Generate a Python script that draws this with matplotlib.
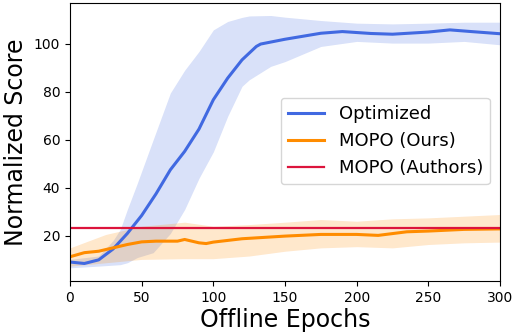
import numpy as np
import matplotlib
matplotlib.use("Agg")
import matplotlib.pyplot as plt

# epochs at which values were read
opt_x = [0, 10, 20, 30, 40, 50, 60, 70, 80, 90, 100, 110, 120, 130, 133, 150, 175, 190, 210, 225, 250, 265, 280, 300]
opt_mean = [9.1, 8.5, 10.0, 14.5, 21.0, 28.5, 37.5, 47.5, 55.2, 64.5, 76.7, 85.7, 93.3, 98.9, 99.9, 101.9, 104.4, 105.1, 104.3, 104.0, 104.9, 105.8, 105.1, 104.2]

band_x = [0, 20, 30, 35, 40, 47, 58, 70, 80, 90, 100, 110, 120, 125, 140, 150, 175, 200, 225, 250, 275, 300]
opt_upper = [10.2, 11.6, 18.0, 22.6, 31.0, 42.0, 60.0, 79.5, 89.0, 96.8, 105.8, 109.3, 111.0, 111.6, 111.8, 111.1, 109.7, 108.6, 108.3, 108.6, 109.0, 109.0]
opt_lower = [6.7, 7.4, 7.8, 8.0, 8.8, 11.0, 13.0, 21.0, 31.0, 44.0, 55.0, 69.8, 82.3, 85.0, 90.6, 92.6, 98.9, 101.0, 100.3, 100.3, 101.0, 99.6]

mopo_x = [0, 10, 20, 30, 40, 50, 60, 75, 80, 90, 95, 100, 120, 150, 175, 200, 215, 235, 250, 275, 300]
mopo_mean = [11.3, 13.0, 13.6, 15.0, 16.4, 17.5, 17.8, 17.8, 18.5, 17.1, 16.8, 17.4, 18.8, 19.9, 20.6, 20.6, 20.2, 21.7, 22.0, 22.7, 22.9]

mopo_band_x = [0, 25, 50, 80, 100, 125, 150, 175, 200, 225, 250, 275, 300]
mopo_upper = [15.0, 20.6, 24.0, 25.7, 24.0, 24.7, 25.7, 26.8, 26.1, 27.1, 27.5, 28.2, 28.9]
mopo_lower = [7.4, 8.8, 10.2, 10.5, 10.5, 11.6, 13.6, 15.0, 15.5, 15.0, 16.4, 17.1, 17.4]

authors_score = 23.3

fig = plt.figure(figsize=(5.21, 3.32), dpi=100)
ax = fig.add_axes([70 / 521, 1 - 281 / 332, 430 / 521, 278 / 332])

blue = 'royalblue'
orange = 'darkorange'
red = 'crimson'

ax.fill_between(band_x, opt_lower, opt_upper, color=blue, alpha=0.2, lw=0)
ax.fill_between(mopo_band_x, mopo_lower, mopo_upper, color=orange, alpha=0.2, lw=0)
ax.plot(opt_x, opt_mean, c=blue, lw=2.2, label='Optimized')
ax.plot(mopo_x, mopo_mean, c=orange, lw=2.2, label='MOPO (Ours)')
ax.axhline(authors_score, c=red, lw=1.6, label='MOPO (Authors)')

ax.set_xlim(0, 300)
ax.set_ylim(1.2, 117)
ax.set_xticks([0, 50, 100, 150, 200, 250, 300])
ax.set_yticks([20, 40, 60, 80, 100])
ax.tick_params(labelsize=10)

ax.set_xlabel('Offline Epochs', fontsize=17, labelpad=2)
ax.set_ylabel('Normalized Score', fontsize=17)

ax.legend(loc='center right', bbox_to_anchor=(0.977, 0.504), borderaxespad=0,
          fontsize=13)

plt.savefig('out.png', dpi=100)
